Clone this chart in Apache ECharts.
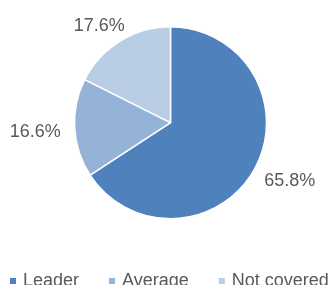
<!DOCTYPE html>
<html lang="en">
<head>
    <meta charset="UTF-8">
    <title>Coverage</title>
    <script src="https://cdn.jsdelivr.net/npm/echarts@6/dist/echarts.min.js"></script>
    <style>
        html, body { margin: 0; padding: 0; background: #ffffff; }
    </style>
</head>
<body>
<div class="main" style="width: 334px;height:285px;"></div>
</body>
<script>
    // shares of each group, in %
    let categories = ['Leader', 'Average', 'Not covered'];
    let shares = [65.8, 16.6, 17.6];
    let colors = ['#4f81bd', '#95b3d7', '#b9cde5'];

    let cx = 170.5, cy = 122.7, radius = 96;
    let labelRadius = 110;
    let total = shares.reduce((a, b) => a + b, 0);

    let myChart = echarts.init(document.querySelector('.main'));
    let data = categories.map((name, i) => ({name: name, value: shares[i]}));

    let option = {
        animation: false,
        color: colors,
        legend: {
            data: categories,
            left: 8,
            top: 272,
            width: 330,
            padding: 0,
            icon: 'rect',
            itemWidth: 8,
            itemHeight: 8,
            itemGap: 28,
            textStyle: {
                fontFamily: 'Liberation Sans, Arial, sans-serif',
                fontSize: 18,
                color: '#595959',
                padding: [0, 0, 0, 1]
            }
        },
        series: [{
            type: 'pie',
            center: [cx, cy],
            radius: radius,
            startAngle: 90,
            clockwise: true,
            data: data,
            itemStyle: {
                borderColor: '#ffffff',
                borderWidth: 1.5
            },
            label: {
                show: true,
                position: 'outside',
                overflow: 'none',
                formatter: function (p) {
                    return p.value.toFixed(1) + '%';
                },
                fontFamily: 'Liberation Sans, Arial, sans-serif',
                fontSize: 18,
                color: '#595959'
            },
            labelLine: {show: false},
            // excel style: label centre on an ellipse around the pie, along the slice's mid angle
            labelLayout: function (p) {
                let i = p.dataIndex;
                let before = shares.slice(0, i).reduce((a, b) => a + b, 0);
                let mid = (before + shares[i] / 2) / total * 2 * Math.PI;
                let dx = Math.sin(mid), dy = -Math.cos(mid);
                let w = p.labelRect.width / 2, h = p.labelRect.height * 0.4;
                return {
                    x: cx + dx * (labelRadius + w),
                    y: cy + 3 + dy * (labelRadius + h),
                    align: 'center',
                    verticalAlign: 'middle'
                };
            },
            emphasis: {disabled: true}
        }]
    };
    myChart.setOption(option);
</script>
</html>
